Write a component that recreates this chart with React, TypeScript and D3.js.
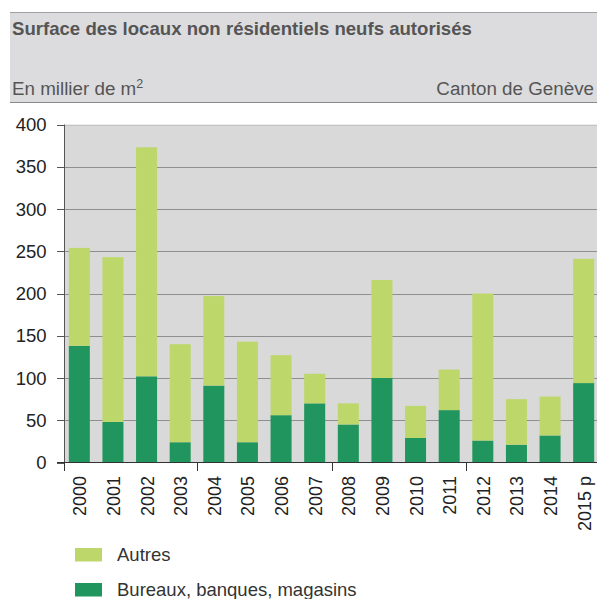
import React, { useEffect, useRef } from 'react';
import * as d3 from 'd3';

// values, in thousands of m2
const years = ['2000', '2001', '2002', '2003', '2004', '2005', '2006', '2007',
  '2008', '2009', '2010', '2011', '2012', '2013', '2014', '2015 p'];
const bureaux = [138, 48, 102, 24, 91, 24, 56, 70, 45, 100, 29, 62, 26, 21, 32, 94];
const autres = [116, 195, 271, 116, 106, 119, 71, 35, 25, 116, 38, 48, 174, 54, 46, 147];
const yTicks = [0, 50, 100, 150, 200, 250, 300, 350, 400];

const seriesNames = ['Bureaux, banques, magasins', 'Autres'];
const seriesColors = ['#21955e', '#bdd76b'];

const W = 597, H = 599;
const FONT = '"Liberation Sans", Arial, sans-serif';

const App = () => {
  const ref = useRef<SVGSVGElement>(null);

  useEffect(() => {
    const svg = d3.select(ref.current);
    svg.selectAll('*').remove();

    const left = 64.5, right = W, top = 124.5, bottom = 462.5;

    const x = d3.scaleBand().domain(years).range([62.5, 600.5])
      .paddingInner(0.375).paddingOuter(0.1875);
    const y = d3.scaleLinear().domain([0, 400]).range([bottom, top]);

    // header band
    svg.append('rect').attr('x', 10).attr('y', 12).attr('width', W - 10).attr('height', 90)
      .attr('fill', '#dcdcde');
    svg.append('line').attr('x1', 10).attr('x2', W).attr('y1', 12.5).attr('y2', 12.5)
      .attr('stroke', '#a0a0a0');
    svg.append('line').attr('x1', 10).attr('x2', W).attr('y1', 102.5).attr('y2', 102.5)
      .attr('stroke', '#8a8a8a');

    svg.append('text').attr('x', 12).attr('y', 34.5).attr('font-family', FONT)
      .attr('font-size', 18.6).attr('font-weight', 'bold').attr('fill', '#555')
      .text('Surface des locaux non résidentiels neufs autorisés');

    const sub = svg.append('text').attr('x', 12).attr('y', 95).attr('font-family', FONT)
      .attr('font-size', 18.8).attr('fill', '#555');
    sub.append('tspan').text('En millier de m');
    sub.append('tspan').attr('font-size', 12.5).attr('dy', -7).text('2');

    svg.append('text').attr('x', 594).attr('y', 95).attr('font-family', FONT)
      .attr('font-size', 18.8).attr('fill', '#555').attr('text-anchor', 'end')
      .text('Canton de Genève');

    // plot background
    svg.append('rect').attr('x', left).attr('y', top).attr('width', right - left)
      .attr('height', bottom - top).attr('fill', '#d9d9d9');

    // grid
    svg.append('g').selectAll('line').data(yTicks.filter(d => d > 0)).join('line')
      .attr('x1', left).attr('x2', right)
      .attr('y1', d => Math.round(y(d)) + 0.5).attr('y2', d => Math.round(y(d)) + 0.5)
      .attr('stroke', d => d === 400 ? '#c4c4c4' : '#8f8f8f').attr('stroke-width', 1);

    // stacked bars
    const rows = years.map((yr, i) => ({ year: yr, bureaux: bureaux[i], autres: autres[i] }));
    const stack = d3.stack<any>().keys(['bureaux', 'autres'])(rows);

    svg.append('g').selectAll('g').data(stack).join('g')
      .attr('fill', (d, i) => seriesColors[i])
      .selectAll('rect').data(d => d).join('rect')
      .attr('x', d => x(d.data.year)!)
      .attr('width', x.bandwidth())
      .attr('y', d => y(d[1]))
      .attr('height', d => y(d[0]) - y(d[1]));

    // y axis
    const yAxis = svg.append('g');
    yAxis.append('line').attr('x1', left).attr('x2', left).attr('y1', top).attr('y2', bottom)
      .attr('stroke', '#555');
    yAxis.selectAll('line.tick').data(yTicks).join('line').attr('class', 'tick')
      .attr('x1', 57).attr('x2', left)
      .attr('y1', d => Math.round(y(d)) + 0.5).attr('y2', d => Math.round(y(d)) + 0.5)
      .attr('stroke', '#555');
    yAxis.selectAll('text').data(yTicks).join('text')
      .attr('x', 46.5).attr('y', d => y(d) + 6.5).attr('text-anchor', 'end')
      .attr('font-family', FONT).attr('font-size', 18.5).attr('fill', '#222')
      .text(d => d);

    // x axis
    const xAxis = svg.append('g');
    xAxis.append('line').attr('x1', 57).attr('x2', right).attr('y1', bottom).attr('y2', bottom)
      .attr('stroke', '#333');
    const step = x.step();
    xAxis.selectAll('line.tick').data([0, 4, 8, 12]).join('line').attr('class', 'tick')
      .attr('x1', i => i === 0 ? left : Math.round(x(years[i])! - step * 0.1875) + 0.5)
      .attr('x2', i => i === 0 ? left : Math.round(x(years[i])! - step * 0.1875) + 0.5)
      .attr('y1', bottom).attr('y2', 471)
      .attr('stroke', '#333');
    xAxis.selectAll('text').data(years).join('text')
      .attr('transform', d => `translate(${x(d)! + x.bandwidth() / 2 + 7},476) rotate(-90)`)
      .attr('text-anchor', 'end').attr('font-family', FONT).attr('font-size', 18)
      .attr('fill', '#222').text(d => d);

    // legend
    const legend = svg.append('g');
    const order = [1, 0];
    order.forEach((s, k) => {
      legend.append('rect').attr('x', 75).attr('y', 548 + k * 35).attr('width', 27)
        .attr('height', 13.5).attr('fill', seriesColors[s]);
      legend.append('text').attr('x', 117).attr('y', 560.5 + k * 35)
        .attr('font-family', FONT).attr('font-size', 18.5).attr('fill', '#333')
        .text(seriesNames[s]);
    });
  }, []);

  return (
    <div>
      <style>{`body{margin:0}`}</style>
      <svg ref={ref} width={W} height={H} style={{ display: 'block' }}></svg>
    </div>
  );
};

export default App;
